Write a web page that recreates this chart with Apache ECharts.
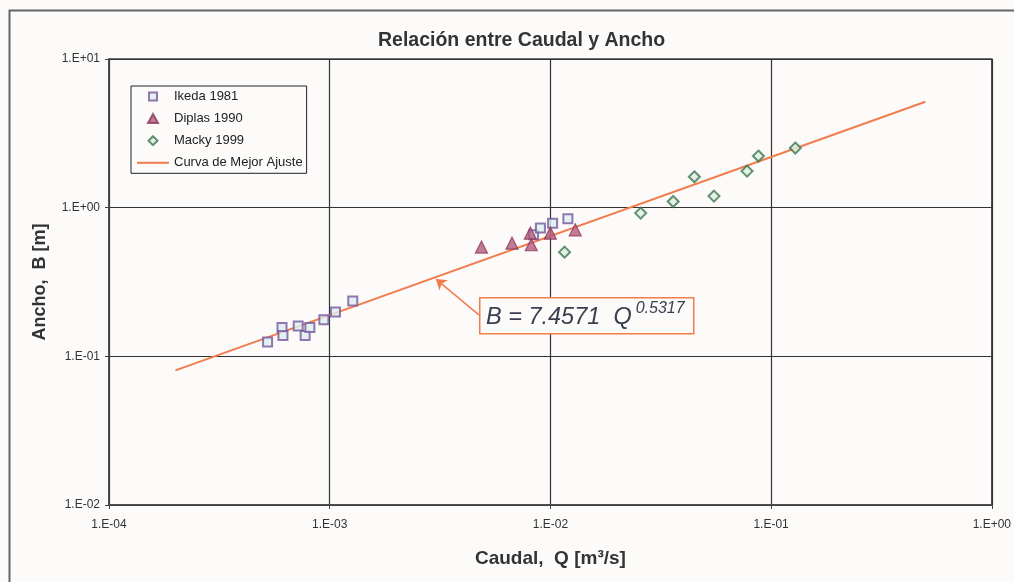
<!DOCTYPE html>
<html>
<head>
<meta charset="utf-8">
<script src="https://cdn.jsdelivr.net/npm/echarts@6/dist/echarts.min.js"></script>
<style>
  *{ margin:0; padding:0; }
  body{ background:#fcfbfa; }
  #chart{ width:1014px; height:582px; }
</style>
</head>
<body>
<div id="chart"></div>
<script>
// datos: caudal Q [m3/s], ancho B [m]
var ikedaQ = [5.23e-4, 6.08e-4, 6.14e-4, 7.20e-4, 7.74e-4, 8.13e-4, 9.41e-4, 1.062e-3, 1.272e-3, 8.39e-3, 9.01e-3, 1.023e-2, 1.20e-2];
var ikedaB = [0.125, 0.156, 0.138, 0.160, 0.138, 0.156, 0.176, 0.199, 0.236, 0.657, 0.729, 0.787, 0.842];
var diplasQ = [4.87e-3, 6.70e-3, 8.11e-3, 8.19e-3, 9.99e-3, 1.296e-2];
var diplasB = [0.543, 0.577, 0.674, 0.563, 0.674, 0.710];
var mackyQ = [1.159e-2, 2.565e-2, 3.60e-2, 4.49e-2, 5.51e-2, 7.78e-2, 8.76e-2, 0.1287];
var mackyB = [0.502, 0.919, 1.100, 1.613, 1.196, 1.762, 2.224, 2.518];
// curva de mejor ajuste B = 7.4571 Q^0.5317 (extremos leidos)
var fitQ = [2e-4, 0.5];
var fitB = [0.0805, 5.16];
// flecha de la etiqueta
var arrowQ = [4.74e-3, 3.03e-3];
var arrowB = [0.190, 0.331];

var xTickLabels = ['1.E-04', '1.E-03', '1.E-02', '1.E-01', '1.E+00'];
var yTickLabels = ['1.E-02', '1.E-01', '1.E+00', '1.E+01'];

var seriesNames = ['Ikeda 1981', 'Diplas 1990', 'Macky 1999', 'Curva de Mejor Ajuste'];

function pairs(xs, ys){
  return xs.map(function(x, i){ return [x, ys[i]]; });
}

// iconos de leyenda 32x10 con el simbolo pequeño centrado (los M iniciales fijan la caja)
var iconSquare = 'path://M0,0M32,10M12,1L20,1L20,9L12,9Z';
var iconTriangle = 'path://M0,0M32,10M16,0.5L21,9.5L11,9.5Z';
var iconDiamond = 'path://M0,0M32,10M16,0.5L20.5,5L16,9.5L11.5,5Z';

var font = 'Liberation Sans, Arial, sans-serif';
var chart = echarts.init(document.getElementById('chart'));

chart.setOption({
  backgroundColor: '#fcfbfa',
  animation: false,
  title: {
    text: 'Relación entre Caudal y Ancho',
    left: 373,
    top: 26,
    textStyle: { fontFamily: font, fontSize: 19.5, fontWeight: 'bold', color: '#333' }
  },
  legend: {
    data: [
      { name: seriesNames[0], icon: iconSquare },
      { name: seriesNames[1], icon: iconTriangle },
      { name: seriesNames[2], icon: iconDiamond },
      { name: seriesNames[3], itemStyle: { opacity: 0 } }
    ],
    orient: 'vertical',
    left: 131,
    top: 86,
    itemWidth: 32,
    itemHeight: 10,
    itemGap: 9.1,
    symbolKeepAspect: false,
    padding: [4, 4, 4, 5],
    borderColor: '#222',
    borderWidth: 1,
    backgroundColor: '#fcfbfa',
    textStyle: { fontFamily: font, fontSize: 13, color: '#222' }
  },
  grid: {
    left: 109, right: 20, top: 59, bottom: 77,
    show: true, borderColor: '#444', borderWidth: 1.5, backgroundColor: '#fcfbfa'
  },
  xAxis: {
    type: 'log', logBase: 10, min: 1e-4, max: 1,
    name: 'Caudal,  Q [m³/s]',
    nameLocation: 'middle', nameGap: 44,
    nameTextStyle: { fontFamily: font, fontSize: 19, fontWeight: 'bold', color: '#333' },
    axisLine: { lineStyle: { color: '#444', width: 1.5 } },
    axisTick: { show: true, length: 4, lineStyle: { color: '#444' } },
    axisLabel: {
      fontFamily: font, fontSize: 12, color: '#333', margin: 14,
      showMinLabel: true, showMaxLabel: true,
      formatter: function(v){ return xTickLabels[Math.round(Math.log10(v)) + 4]; }
    },
    splitLine: { show: true, lineStyle: { color: '#333', width: 1.2 } },
    minorTick: { show: false }
  },
  yAxis: {
    type: 'log', logBase: 10, min: 0.01, max: 10,
    name: 'Ancho,  B [m]',
    nameLocation: 'middle', nameGap: 60,
    nameTextStyle: { fontFamily: font, fontSize: 18, fontWeight: 'bold', color: '#333' },
    axisLine: { lineStyle: { color: '#444', width: 1.5 } },
    axisTick: { show: true, length: 4, lineStyle: { color: '#444' } },
    axisLabel: {
      fontFamily: font, fontSize: 12, color: '#333', margin: 9,
      formatter: function(v){ return yTickLabels[Math.round(Math.log10(v)) + 2]; }
    },
    splitLine: { show: true, lineStyle: { color: '#333', width: 1.2 } }
  },
  series: [
    {
      name: 'Curva de Mejor Ajuste',
      type: 'line',
      data: pairs(fitQ, fitB),
      symbol: 'none',
      lineStyle: { color: '#f27c4e', width: 2 },
      itemStyle: { color: '#f27c4e' },
      z: 2,
      markLine: {
        silent: true,
        symbol: ['none', 'arrow'],
        symbolSize: 10,
        label: { show: false },
        lineStyle: { color: '#f27c4e', width: 1.5, type: 'solid' },
        data: [[{ coord: [arrowQ[0], arrowB[0]] }, { coord: [arrowQ[1], arrowB[1]] }]]
      }
    },
    {
      name: 'Ikeda 1981',
      type: 'scatter',
      data: pairs(ikedaQ, ikedaB),
      symbol: 'rect',
      symbolSize: 9,
      itemStyle: { color: '#dcf0ee', borderColor: '#76579c', borderWidth: 2 },
      z: 3
    },
    {
      name: 'Diplas 1990',
      type: 'scatter',
      data: pairs(diplasQ, diplasB),
      symbol: 'triangle',
      symbolSize: 12,
      itemStyle: { color: '#b35a7c', borderColor: '#8a3a5c', borderWidth: 1.2 },
      z: 4
    },
    {
      name: 'Macky 1999',
      type: 'scatter',
      data: pairs(mackyQ, mackyB),
      symbol: 'diamond',
      symbolSize: 11,
      itemStyle: { color: '#e0eedd', borderColor: '#3b7753', borderWidth: 2 },
      z: 5
    }
  ],
  graphic: [
    {
      type: 'rect', left: 7, top: 8, z: -1, silent: true,
      shape: { width: 1030, height: 600 },
      style: { fill: 'none', stroke: '#666', lineWidth: 2 }
    },
    {
      type: 'rect', left: 479, top: 297, z: 10, silent: true,
      shape: { width: 214, height: 36 },
      style: { fill: '#fcfbfa', stroke: '#f27c4e', lineWidth: 1.5 }
    },
    {
      type: 'text', left: 486, top: 301, z: 11, silent: true,
      style: {
        text: '{a|B = 7.4571  Q}{b|0.5317}',
        rich: {
          a: { fontFamily: font, fontSize: 23.5, fontStyle: 'italic', fill: '#3a3f4f', lineHeight: 28, verticalAlign: 'bottom' },
          b: { fontFamily: font, fontSize: 16, fontStyle: 'italic', fill: '#3a3f4f', lineHeight: 28, verticalAlign: 'top', padding: [0, 0, 0, 4] }
        }
      }
    }
  ]
});
</script>
</body>
</html>
